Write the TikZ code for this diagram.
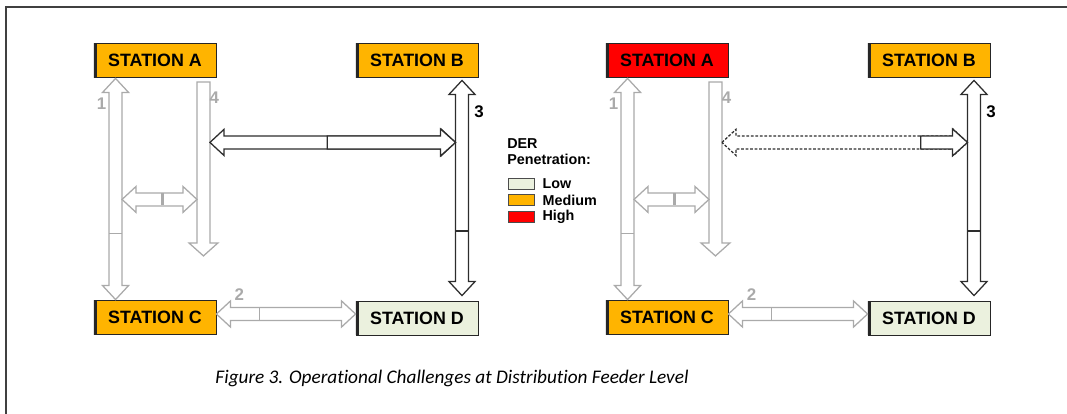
\documentclass[tikz,border=0pt]{standalone}
\usepackage{fontspec}
\setmainfont{Liberation Sans}
\newfontfamily\capfont[Ligatures=NoCommon]{Carlito}
\usetikzlibrary{calc}

\definecolor{lowder}{RGB}{235,241,222}
\definecolor{medder}{RGB}{255,180,0}
\definecolor{highder}{RGB}{255,0,0}
\definecolor{linkgray}{RGB}{170,170,170}
\definecolor{linkdark}{RGB}{45,45,45}

\tikzset{
  station/.style={draw=black!85, line width=0.6pt, minimum width=3.05cm, minimum height=0.85cm,
    inner sep=0pt, font=\bfseries\fontsize{12.7}{12.7}\selectfont,
    path picture={\draw[line width=4pt] (path picture bounding box.north west) -- (path picture bounding box.south west);}},
  softlink/.style={draw=linkgray, fill=white, line width=0.9pt},
  hardlink/.style={draw=linkdark, fill=white, line width=0.9pt},
  fulline/.style={solid},
  shortdash/.style={dash pattern=on 2pt off 1.2pt},
  linknum/.style={font=\bfseries\fontsize{12}{12}\selectfont, text=linkgray, inner sep=0pt},
  legbox/.style={draw=black!70, line width=0.5pt, minimum width=0.65cm, minimum height=0.275cm, inner sep=0pt},
  legtext/.style={font=\bfseries\fontsize{10.2}{11.5}\selectfont, inner sep=0pt, anchor=west}
}

% fat arrow, two heads, from top tip #2 down to bottom tip #3
\newcommand{\vtwohead}[3]{%
  \draw[#1] (#2) -- ++(13,14) -- ++(-6.5,0) -- ($(#3)+(6.5,-14)$) -- ++(6.5,0) -- (#3)
    -- ++(-13,-14) -- ++(6.5,0) -- ($(#2)+(-6.5,14)$) -- ++(-6.5,0) -- cycle;}
% fat arrow, two heads, from left tip #2 to right tip #3
\newcommand{\htwohead}[3]{%
  \draw[#1] (#2) -- ++(14,-13) -- ++(0,6.5) -- ($(#3)+(-14,-6.5)$) -- ++(0,-6.5) -- (#3)
    -- ++(-14,13) -- ++(0,-6.5) -- ($(#2)+(14,6.5)$) -- ++(0,6.5) -- cycle;}
% fat arrow, one head, flat top #2 down to tip #3
\newcommand{\vonehead}[3]{%
  \draw[#1] ($(#2)+(-6.5,0)$) -- ++(13,0) -- ($(#3)+(6.5,-13)$) -- ++(8,0) -- (#3)
    -- ++(-14.5,-13) -- ++(8,0) -- cycle;}

\begin{document}
\begin{tikzpicture}[x=0.025cm, y={(0,-0.025cm)}]
  \useasboundingbox (0,0) rectangle (1067,414);
  %% frame
  \draw[line width=1.4pt, black!75] (6,414) -- (6,7) -- (1067,7);

  %% two feeder panels
  \foreach \dx/\acol/\cut/\farstyle/\s in {0/medder/0.478/fulline/L, 512/highder/0.81/shortdash/R} {
    \node[station, fill=\acol]  (A\s) at (155+\dx,60.5)  {STATION A};
    \node[station, fill=medder] (B\s) at (417+\dx,60.5)  {STATION B};
    \node[station, fill=medder] (C\s) at (155+\dx,317.5) {STATION C};
    \node[station, fill=lowder] (D\s) at (417+\dx,318)   {STATION D};

    \coordinate (t1\s) at ($(A\s.south west)+(22,0.5)$);
    \coordinate (b1\s) at ($(C\s.north west)+(22,-0.5)$);
    \coordinate (t4\s) at ($(A\s.south east)+(-13,4)$);
    \coordinate (b4\s) at ($(t4\s)+(0,174)$);
    \coordinate (t3\s) at ($(B\s.south)+(45,2.5)$);
    \coordinate (b3\s) at ($(D\s.north)+(45,-5)$);
    \coordinate (l5\s) at ($(t1\s)+(6.5,121)$);
    \coordinate (r5\s) at ($(t4\s)+(-6.5,117.5)$);
    \coordinate (l6\s) at ($(t4\s)+(6.5,60.5)$);
    \coordinate (r6\s) at ($(t3\s)+(-6.5,62)$);
    \coordinate (l2\s) at ($(C\s.east)+(0,-3.5)$);
    \coordinate (r2\s) at ($(D\s.west)+(0,-4)$);

    % light links
    \vtwohead{softlink}{t1\s}{b1\s}
    \draw[linkgray, line width=0.9pt] ($(t1\s)!0.7!(b1\s)+(-6.5,0)$) -- ++(13,0);
    \vonehead{softlink}{t4\s}{b4\s}
    \htwohead{softlink}{l5\s}{r5\s}
    \draw[linkgray, line width=1.6pt] ($(l5\s)!0.54!(r5\s)+(0,-6)$) -- ++(0,12);
    \htwohead{softlink}{l2\s}{r2\s}
    \draw[linkgray, line width=0.9pt] ($(l2\s)!0.31!(r2\s)+(0,-6.5)$) -- ++(0,13);

    % dark links
    \vtwohead{hardlink}{t3\s}{b3\s}
    \draw[linkdark, line width=0.9pt] ($(t3\s)!0.7!(b3\s)+(-6.5,0)$) -- ++(13,0);
    \htwohead{hardlink, \farstyle}{l6\s}{r6\s}
    \draw[hardlink] ($(l6\s)!\cut!(r6\s)+(0,-6.5)$) -- ($(r6\s)+(-15,-6.5)$) -- ++(0,-7) -- (r6\s)
      -- ++(-15,13.5) -- ++(0,-7) -- ($(l6\s)!\cut!(r6\s)+(0,6.5)$) -- cycle;

    % link numbers
    \node[linknum] (n1\s) at ($(t1\s)+(-14,25)$) {1};
    \node[linknum] (n4\s) at ($(t4\s)+(11,15.5)$) {4};
    \node[linknum] (n2\s) at ($(l2\s)+(23,-19)$) {2};
    \node[linknum, text=black] (n3\s) at ($(t3\s)+(17,31)$) {3};
  }

  %% legend
  \node[legtext, anchor=north west, align=left] (dertitle) at (507,138) {DER\\Penetration:};
  \node[legbox, fill=lowder]  (lowbox)  at (521,183.5) {};
  \node[legbox, fill=medder]  (medbox)  at (521,200)   {};
  \node[legbox, fill=highder] (highbox) at (521,216.5) {};
  \node[legtext] (lowtxt)  at ($(lowbox.east)+(8,0)$)  {Low};
  \node[legtext] (medtxt)  at ($(medbox.east)+(8,0)$)  {Medium};
  \node[legtext] (hightxt) at ($(highbox.east)+(8,0)$) {High};

  %% caption
  \node[font=\capfont\itshape\fontsize{13.7}{15}\selectfont, text=black] (caption) at (452,378)
    {Figure 3. Operational Challenges at Distribution Feeder Level};
\end{tikzpicture}
\end{document}
